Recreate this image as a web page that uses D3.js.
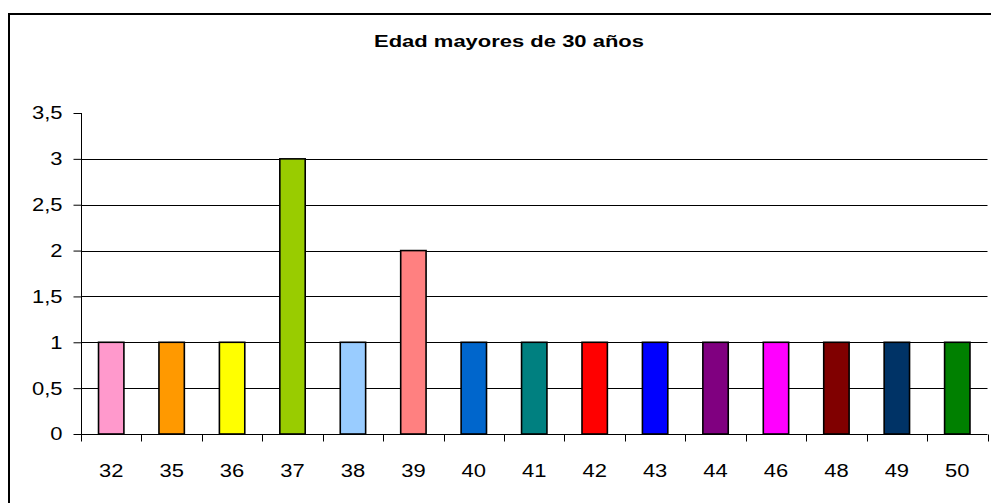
<!DOCTYPE html>
<html><head><meta charset="utf-8">
<script src="https://cdn.jsdelivr.net/npm/d3@7"></script>
<style>body{margin:0;background:#fff}svg{display:block}text{font-family:Arial,"Liberation Sans",sans-serif;fill:#000}</style>
</head><body>
<svg id="c" width="991" height="503"></svg>
<script>
const categories = ["32","35","36","37","38","39","40","41","42","43","44","46","48","49","50"];
const values = [1,1,1,3,1,2,1,1,1,1,1,1,1,1,1];
const colors = ["#FF99CC","#FF9900","#FFFF00","#99CC00","#99CCFF","#FF8080","#0066CC","#008080","#FF0000","#0000FF","#800080","#FF00FF","#800000","#003366","#008000"];
const yTicks = [0,0.5,1,1.5,2,2.5,3,3.5];
const yTickLabels = ["0","0,5","1","1,5","2","2,5","3","3,5"];
const title = "Edad mayores de 30 años";

const svg = d3.select("#c");
const stretch = 1.22;
function widen(sel, f){ sel.each(function(){ const w=this.getComputedTextLength(); d3.select(this).attr("textLength", w*f).attr("lengthAdjust","spacingAndGlyphs"); }); }

// outer border
svg.append("rect").attr("x",9).attr("y",14).attr("width",1000).attr("height",500)
  .attr("fill","none").attr("stroke","#000").attr("stroke-width",2);

const x = d3.scaleBand().domain(categories).range([81,987.5]).padding(0);
const y = d3.scaleLinear().domain([0,3.5]).range([434,113]);

// gridlines
svg.append("g").selectAll("line").data(yTicks.filter(t=>t>0 && t<3.5)).join("line")
  .attr("x1",81).attr("x2",987.5)
  .attr("y1",d=>Math.round(y(d))+0.5).attr("y2",d=>Math.round(y(d))+0.5)
  .attr("stroke","#000").attr("stroke-width",1);

// bars
const bw = x.step()*0.42;
svg.append("g").selectAll("rect").data(categories).join("rect")
  .attr("x",(d)=>x(d)+x.bandwidth()/2-bw/2)
  .attr("y",(d,i)=>y(values[i]))
  .attr("width",bw)
  .attr("height",(d,i)=>y(0)-y(values[i]))
  .attr("fill",(d,i)=>colors[i])
  .attr("stroke","#000").attr("stroke-width",1.6);

// y axis
const yAxis = d3.axisLeft(y).tickValues(yTicks).tickFormat((d,i)=>yTickLabels[i]).tickSize(8).tickPadding(10);
const gy = svg.append("g").attr("transform","translate(81.5,0)").call(yAxis);
gy.select(".domain").attr("d","M0,"+y(3.5)+"V441").attr("stroke","#000");
gy.selectAll(".tick line").attr("stroke","#000");
gy.selectAll(".tick text").attr("font-size",18).attr("font-family","Arial, 'Liberation Sans', sans-serif").attr("dy","0.33em").attr("x",-19);
widen(gy.selectAll(".tick text"), stretch);

// x axis
const xAxis = d3.axisBottom(x).tickSize(0).tickPadding(0);
const gx = svg.append("g").attr("transform","translate(0,434.5)").call(xAxis);
gx.select(".domain").attr("d","M81,0H987.5").attr("stroke","#000");
gx.selectAll(".tick text").attr("font-size",18).attr("font-family","Arial, 'Liberation Sans', sans-serif").attr("y",42).attr("dy",0);
widen(gx.selectAll(".tick text"), stretch);
// boundary ticks between categories
const bounds = categories.map(c=>x(c)).concat([x.range()[1]]);
gx.append("g").selectAll("line").data(bounds).join("line")
  .attr("x1",d=>Math.round(d)+0.5).attr("x2",d=>Math.round(d)+0.5).attr("y1",0).attr("y2",7).attr("stroke","#000");

// title
const t = svg.append("text").attr("x",509).attr("y",47).attr("text-anchor","middle")
  .attr("font-size",17).attr("font-weight","bold").text(title);
t.attr("textLength",270).attr("lengthAdjust","spacingAndGlyphs");
</script>
</body></html>
